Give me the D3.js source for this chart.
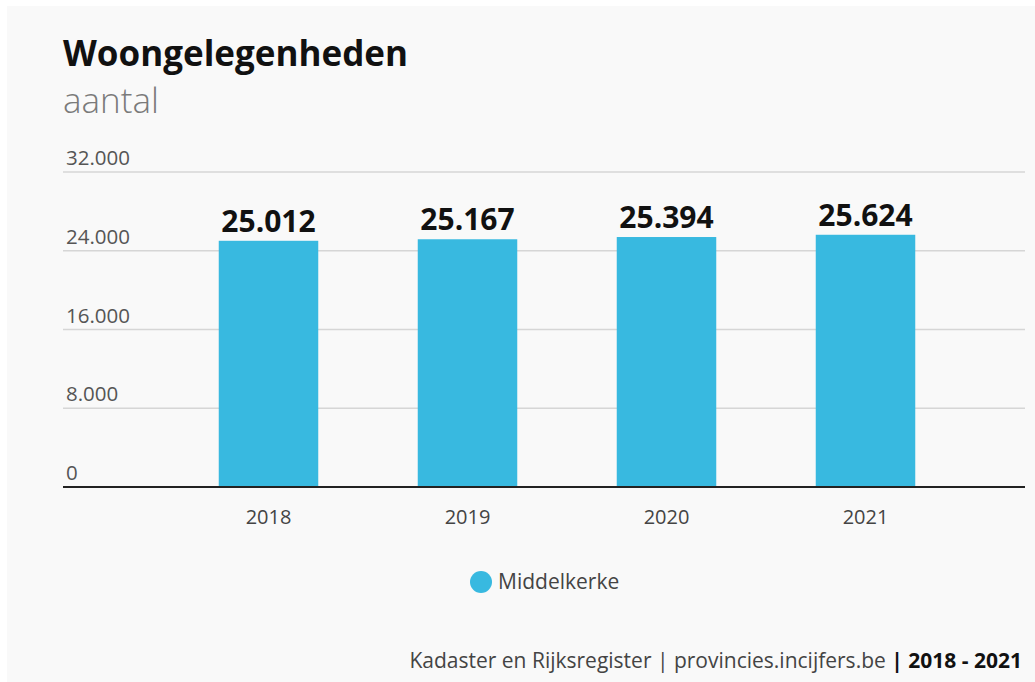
<!DOCTYPE html>
<html>
<head>
<meta charset="utf-8">
<script src="https://cdn.jsdelivr.net/npm/d3@7"></script>
<style>
  html, body { margin: 0; padding: 0; background: #ffffff; }
  svg { display: block; }
  text { font-family: "Open Sans", "Lato", sans-serif; }
</style>
</head>
<body>
<svg id="chart" width="1035" height="682"></svg>
<script>
// Data
const years = ["2018", "2019", "2020", "2021"];
const woongelegenheden = [25012, 25167, 25394, 25624];
const yTicks = [0, 8000, 16000, 24000, 32000];
const seriesName = "Middelkerke";
const titleText = "Woongelegenheden";
const subtitleText = "aantal";
const sourceText = "Kadaster en Rijksregister | provincies.incijfers.be";
const periodText = "2018 - 2021";

const svg = d3.select("#chart");
const W = 1035, H = 682;
const barColor = "#38b9e0";

// Panel background
svg.append("rect").attr("x", 7).attr("y", 6).attr("width", W - 7).attr("height", H - 6)
  .attr("fill", "#f9f9f9");

// Number format with dot as thousands separator
const nl = d3.formatLocale({ decimal: ",", thousands: ".", grouping: [3], currency: ["€", ""] });
const fmt = nl.format(",.0f");

// Title
svg.append("text").attr("x", 63).attr("y", 66)
  .attr("font-size", 35).attr("font-weight", 700).attr("fill", "#111")
  .text(titleText);
svg.append("text").attr("x", 63).attr("y", 113)
  .attr("font-size", 35).attr("font-weight", 300).attr("fill", "#7a7a7a")
  .text(subtitleText);

// Scales
const x = d3.scaleBand().domain(years).range([169, 965]).paddingInner(0.5).paddingOuter(0.25);
const y = d3.scaleLinear().domain([0, 32000]).range([487, 172]);

// Gridlines + tick labels
const grid = svg.append("g");
yTicks.forEach(t => {
  if (t !== 0) {
    grid.append("line").attr("x1", 63).attr("x2", 1025)
      .attr("y1", y(t)).attr("y2", y(t))
      .attr("stroke", "#d6d6d6").attr("stroke-width", 1.5);
  }
  grid.append("text").attr("x", 66).attr("y", y(t) - 7)
    .attr("font-size", 20.5).attr("fill", "#555")
    .text(fmt(t));
});

// Bars
svg.append("g").selectAll("rect").data(years).join("rect")
  .attr("x", d => x(d))
  .attr("width", x.bandwidth())
  .attr("y", (d, i) => y(woongelegenheden[i]))
  .attr("height", (d, i) => y(0) - y(woongelegenheden[i]))
  .attr("fill", barColor);

// Value labels
svg.append("g").selectAll("text").data(years).join("text")
  .attr("x", d => x(d) + x.bandwidth() / 2)
  .attr("y", (d, i) => y(woongelegenheden[i]) - 9)
  .attr("text-anchor", "middle")
  .attr("font-size", 30).attr("font-weight", 700).attr("fill", "#111")
  .text((d, i) => fmt(woongelegenheden[i]));

// Baseline
svg.append("line").attr("x1", 63).attr("x2", 1025)
  .attr("y1", y(0)).attr("y2", y(0))
  .attr("stroke", "#222").attr("stroke-width", 2);

// X axis labels
const xAxis = d3.axisBottom(x).tickSize(0).tickPadding(23);
const gx = svg.append("g").attr("transform", `translate(0,${y(0)})`).call(xAxis);
gx.select(".domain").remove();
gx.selectAll("text").attr("font-size", 20).attr("fill", "#444")
  .attr("font-family", "'Open Sans', Lato, sans-serif");

// Legend
const lg = svg.append("g").attr("transform", "translate(481,582)");
lg.append("circle").attr("r", 11).attr("fill", barColor);
lg.append("text").attr("x", 17).attr("y", 7).attr("font-size", 21).attr("fill", "#444")
  .text(seriesName);

// Source line
const src = svg.append("text").attr("x", 1022).attr("y", 668).attr("text-anchor", "end")
  .attr("font-size", 21).attr("fill", "#444");
src.append("tspan").text(sourceText + " ");
src.append("tspan").attr("font-weight", 700).attr("fill", "#111").text("| " + periodText);
</script>
</body>
</html>
